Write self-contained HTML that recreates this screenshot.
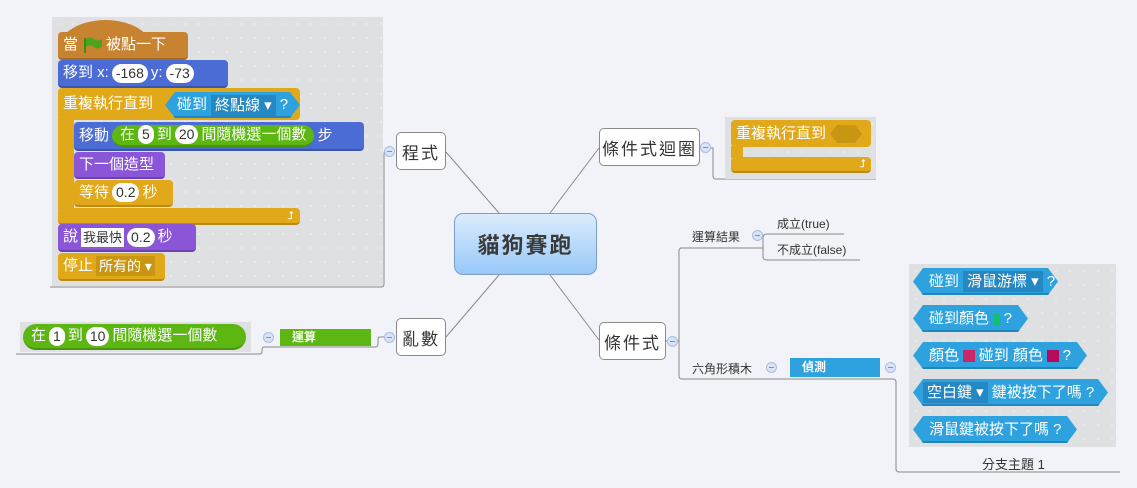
<!DOCTYPE html>
<html><head><meta charset="utf-8">
<style>
*{margin:0;padding:0;box-sizing:border-box}
body{width:1137px;height:488px;background:#f2f3f8;position:relative;overflow:hidden;font-family:"Liberation Sans","Noto Sans CJK TC",sans-serif}
.a{position:absolute}
.img{position:absolute;background-color:#dfe0e2;background-image:radial-gradient(circle,#e9eaec 1px,transparent 1.2px);background-size:14px 14px}
.blk{position:absolute;color:#fff;font-size:15px;line-height:26px;padding-left:5px;border-radius:4px;white-space:nowrap;display:flex;align-items:center;gap:3px}
.blue{background:#4a6cd4;border-bottom:2px solid #3a55aa}
.or{background:#e1a91a;border-bottom:2px solid #b98a14}
.pu{background:#8a55d7;border-bottom:2px solid #6c42ab}
.br{background:#c88330;border-bottom:2px solid #a36a26}
.pill{background:#fff;color:#333;border-radius:10px;padding:0 4px;line-height:19px;height:19px;font-size:14px}
.gr{background:#5cb712;border-radius:13px;border-bottom:2px solid #4a9410}
.hex{position:absolute;background:#2ea2de;color:#fff;font-size:15px;height:27px;line-height:26px;padding:0 16px;clip-path:polygon(10px 0,calc(100% - 10px) 0,100% 50%,calc(100% - 10px) 100%,10px 100%,0 50%);white-space:nowrap;display:flex;align-items:center;gap:4px;box-shadow:inset 0 -2px 0 #1f87bd}
.dd{background:#2588c2;padding:0 4px;line-height:21px;height:21px}
.node{position:absolute;background:#fff;border:1px solid #8a8a8a;border-radius:5px;font-size:17px;color:#333;display:flex;align-items:center;justify-content:center;letter-spacing:2px}
.lbl{position:absolute;font-size:12px;color:#333;white-space:nowrap}
.c{position:absolute;width:11px;height:11px;border-radius:50%;background:#d8e3f6;border:1px solid #a9bde0}
.c:after{content:"";position:absolute;left:2px;top:4px;width:5px;height:1px;background:#7a90c0}
.bar{position:absolute;color:#fff;font-size:12px;font-weight:bold;padding-left:12px;line-height:17px}
</style></head><body>
<svg class="a" style="left:0;top:0" width="1137" height="488">
<g stroke="#8a8a8a" stroke-width="1" fill="none">
<line x1="499" y1="213" x2="446" y2="152"/>
<line x1="550" y1="213" x2="599" y2="148"/>
<line x1="499" y1="275" x2="446" y2="337"/>
<line x1="550" y1="275" x2="599" y2="340"/>
<path d="M390 151 H386 Q384 151 384 154 V284 Q384 287 381 287 H50"/>
<path d="M390 337 H380 Q378 337 378 340 V344 Q378 347 375 347 H264 Q262 347 262 350 V352 Q262 354 259 354 H16"/>
<path d="M706 148 H713 V176 Q713 179 716 179 H876"/>
<path d="M666 341 H679"/>
<path d="M692 248 H682 Q679 248 679 251 V376 Q679 379 682 379 H893 Q896 379 896 382 V469 Q896 472 899 472 H1120"/>
<path d="M680 248 H763"/>
<path d="M763 245 V238 Q763 234 767 234 H844"/>
<path d="M763 245 V257 Q763 260 767 260 H860"/>
</g>
</svg>

<!-- program image -->
<div class="img" style="left:52px;top:17px;width:331px;height:269px"></div>
<div class="a" style="left:58px;top:20px;width:95px;height:30px;border-radius:50% 50% 0 0/100% 100% 0 0;background:#c88330"></div>
<div class="blk br" style="left:58px;top:32px;width:130px;height:28px">當 <svg width="22" height="18"><path d="M4 2 V17" stroke="#3a8a14" stroke-width="2"/><path d="M5 3 Q10 0 13 3 T21 3 V11 Q17 14 13 11 T5 11Z" fill="#4aa41c"/></svg> 被點一下</div>
<div class="blk blue" style="left:58px;top:60px;width:170px;height:28px">移到 x: <span class="pill">-168</span> y: <span class="pill">-73</span></div>
<div class="blk or" style="left:58px;top:88px;width:242px;height:32px;border-bottom:none">重複執行直到</div>
<div class="hex" style="left:165px;top:92px;width:135px;height:26px;padding:0 12px">碰到 <span class="dd">終點線 ▾</span>?</div>
<div class="a" style="left:58px;top:118px;width:16px;height:92px;background:#e1a91a"></div>
<div class="blk or" style="left:58px;top:208px;width:242px;height:17px;justify-content:flex-end;padding-right:6px;font-size:11px;line-height:14px">⮥</div>
<div class="blk blue" style="left:74px;top:122px;width:290px;height:29px">移動 <span class="blk gr" style="position:static;height:22px;line-height:20px;padding:0 8px;gap:3px">在 <span class="pill">5</span> 到 <span class="pill">20</span> 間隨機選一個數</span> 步</div>
<div class="blk pu" style="left:74px;top:152px;width:91px;height:27px">下一個造型</div>
<div class="blk or" style="left:74px;top:180px;width:99px;height:27px">等待 <span class="pill">0.2</span> 秒</div>
<div class="blk pu" style="left:58px;top:224px;width:138px;height:28px">說 <span style="background:#fff;color:#333;font-size:13px;line-height:19px;padding:0 2px">我最快</span><span class="pill">0.2</span> 秒</div>
<div class="blk or" style="left:58px;top:253px;width:107px;height:28px">停止 <span style="background:#c99614;line-height:20px;padding:0 3px;font-size:14px;color:#fff">所有的 ▾</span></div>

<!-- random image -->
<div class="img" style="left:20px;top:322px;width:231px;height:30px"></div>
<div class="blk gr" style="left:23px;top:324px;width:223px;height:26px;padding-left:8px">在 <span class="pill">1</span> 到 <span class="pill">10</span> 間隨機選一個數</div>
<div class="bar" style="left:280px;top:329px;width:91px;height:17px;background:#5cb712">運算</div>
<div class="c" style="left:263px;top:332px"></div>

<!-- loop image -->
<div class="img" style="left:725px;top:117px;width:151px;height:62px"></div>
<div class="blk or" style="left:731px;top:120px;width:140px;height:27px;border-bottom:none">重複執行直到 <svg width="34" height="20"><polygon points="8,1 26,1 33,10 26,19 8,19 1,10" fill="#c99614"/></svg></div>
<div class="a" style="left:731px;top:146px;width:12px;height:12px;background:#e1a91a"></div>
<div class="blk or" style="left:731px;top:157px;width:140px;height:16px;justify-content:flex-end;padding-right:5px;font-size:11px;line-height:14px">⮥</div>

<!-- sensing image -->
<div class="img" style="left:909px;top:264px;width:207px;height:183px"></div>
<div class="hex" style="left:913px;top:268px;width:145px">碰到 <span class="dd">滑鼠游標 ▾</span> ?</div>
<div class="hex" style="left:913px;top:305px;width:115px">碰到顏色 <span style="width:12px;height:12px;background:#14c06a;display:inline-block"></span> ?</div>
<div class="hex" style="left:913px;top:342px;width:174px">顏色 <span style="width:12px;height:12px;background:#c8286a;display:inline-block"></span> 碰到 顏色 <span style="width:12px;height:12px;background:#b80a5a;display:inline-block"></span> ?</div>
<div class="hex" style="left:913px;top:379px;width:195px;padding-left:10px"><span class="dd">空白鍵 ▾</span> 鍵被按下了嗎 ?</div>
<div class="hex" style="left:913px;top:416px;width:164px">滑鼠鍵被按下了嗎 ?</div>
<div class="lbl" style="left:982px;top:454px;font-size:13px">分支主題 1</div>

<!-- nodes -->
<div class="a" style="left:454px;top:213px;width:143px;height:62px;border:1px solid #7c9cc4;border-radius:9px;background:linear-gradient(#dcecfd,#98c8f8);display:flex;align-items:center;justify-content:center;font-size:22px;font-weight:bold;color:#3a3a3a;letter-spacing:2px">貓狗賽跑</div>
<div class="node" style="left:396px;top:132px;width:50px;height:38px">程式</div>
<div class="node" style="left:396px;top:318px;width:50px;height:38px">亂數</div>
<div class="node" style="left:599px;top:128px;width:101px;height:38px">條件式迴圈</div>
<div class="node" style="left:599px;top:322px;width:67px;height:38px">條件式</div>
<div class="c" style="left:384px;top:146px"></div>
<div class="c" style="left:384px;top:332px"></div>
<div class="c" style="left:700px;top:142px"></div>
<div class="c" style="left:667px;top:336px"></div>

<div class="lbl" style="left:692px;top:228px">運算結果</div>
<div class="c" style="left:752px;top:230px"></div>
<div class="lbl" style="left:777px;top:215px">成立(true)</div>
<div class="lbl" style="left:777px;top:241px">不成立(false)</div>
<div class="lbl" style="left:692px;top:360px">六角形積木</div>
<div class="c" style="left:766px;top:362px"></div>
<div class="bar" style="left:790px;top:358px;width:90px;height:19px;background:#2ea2de;line-height:19px">偵測</div>
<div class="c" style="left:885px;top:362px"></div>
</body></html>
